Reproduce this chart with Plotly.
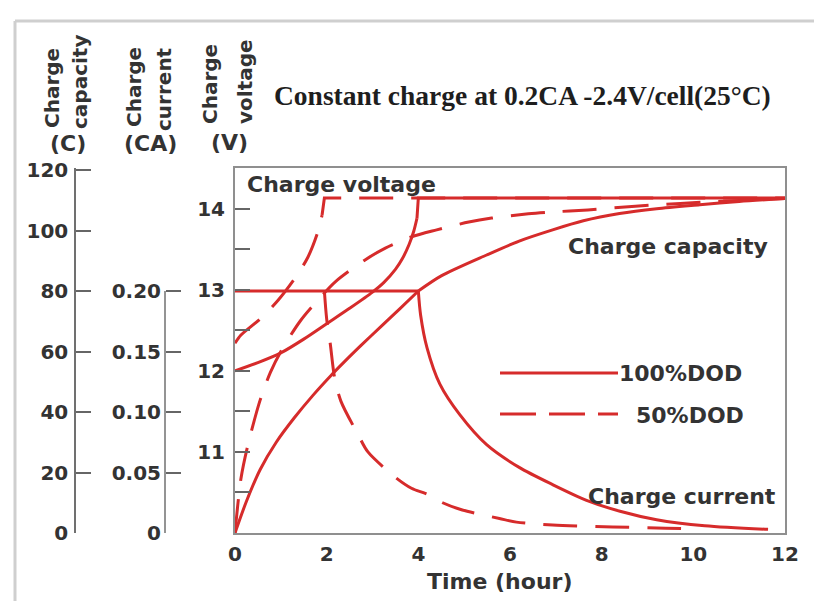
import plotly.graph_objects as go

# ---------------- data ----------------
# Charge voltage, 100% DOD (V)
volt100_curve_t = [0, 0.5, 1.0, 1.5, 2.0, 2.5, 3.0, 3.25, 3.5, 3.65, 3.8, 3.9, 3.97]
volt100_curve_v = [12.0, 12.1, 12.22, 12.39, 12.58, 12.77, 12.97, 13.09, 13.25, 13.38, 13.56, 13.72, 13.88]
volt100_float_t = [3.97, 4.0, 12.0]
volt100_float_v = [13.88, 14.13, 14.13]

# Charge voltage, 50% DOD (V)
volt50_curve_t = [0, 0.13, 0.57, 0.94, 1.33, 1.59, 1.8, 1.9]
volt50_curve_v = [12.34, 12.44, 12.65, 12.87, 13.16, 13.4, 13.7, 13.92]
volt50_float_t = [1.9, 1.95, 12.0]
volt50_float_v = [13.92, 14.13, 14.13]

# Charge capacity (% of C)
cap100_a_t = [0, 0.25, 0.55, 0.9, 1.29, 1.7, 2.09, 2.4, 2.75, 3.2, 3.6, 4.0]
cap100_a_c = [0, 10.5, 21, 30, 38, 45.5, 52, 56.8, 62, 68.5, 74.2, 80]
cap100_b_t = [4.0, 4.5, 5.49, 6.2, 6.93, 7.6, 8.39, 9.2, 10.14, 11.0, 12.0]
cap100_b_c = [80, 85, 91.9, 96.5, 100.2, 103.2, 105.6, 107.2, 108.5, 109.6, 110.6]

cap50_t = [0, 0.13, 0.28, 0.55, 0.77, 1.0, 1.42, 1.81, 2.2, 2.83, 3.28, 3.85, 4.4,
           5.1, 5.6, 6.4, 6.9, 7.7, 8.2, 9.2, 10.25, 11.1, 12.0]
cap50_c = [0, 18, 29, 44, 53, 60, 70, 77, 83.2, 90.2, 94.2, 97.9, 100.2,
           102.8, 104.1, 105.5, 106.1, 106.8, 107.4, 108.5, 109.4, 110.0, 110.6]

# Charge current (CA)
cur100_const_t = [0, 4.0]
cur100_const_i = [0.2, 0.2]
cur100_decay_t = [4.0, 4.05, 4.19, 4.47, 4.9, 5.49, 6.21, 6.93, 7.67, 8.4, 9.2, 10.25, 11.63]
cur100_decay_i = [0.2, 0.18, 0.153, 0.123, 0.098, 0.073, 0.054, 0.04, 0.027, 0.018, 0.011, 0.006, 0.003]

cur50_decay_t = [1.95, 2.0, 2.08, 2.17, 2.31, 2.69, 2.9, 3.5, 3.85, 4.2, 4.53, 4.96,
                 5.77, 6.14, 6.93, 8.24, 9.4, 10.0]
cur50_decay_i = [0.2, 0.177, 0.156, 0.129, 0.109, 0.081, 0.067, 0.046, 0.037, 0.032, 0.025, 0.019,
                 0.012, 0.009, 0.0066, 0.005, 0.004, 0.0035]

time_ticks = [0, 2, 4, 6, 8, 10, 12]
volt_ticks = [10.5, 11, 11.5, 12, 12.5, 13, 13.5, 14]
volt_labels = ["", "11", "", "12", "", "13", "", "14"]
cap_ticks = [0, 20, 40, 60, 80, 100, 120]
cur_ticks = [0, 0.05, 0.10, 0.15, 0.20]
cur_labels = ["0", "0.05", "0.10", "0.15", "0.20"]

# ---------------- styling ----------------
W, H = 814, 601
RED = "#d62b2b"
DASH = "34px,18px"
TXT = "#333333"
SANS = "DejaVu Sans"
LW = 3


def px(x):
    """pixel column -> paper fraction"""
    return x / W


def py(y):
    """pixel row -> paper fraction"""
    return 1 - y / H


# plot frame in pixels
X0, X1, Y0, Y1 = 235, 785, 168, 533
V_RANGE = [10, 14.5]
CAP_TOP = 120 * (Y1 - Y0) / 363.0
CUR_TOP = CAP_TOP / 400.0

fig = go.Figure()


def add(t, v, axis, dash=None, spline=True):
    fig.add_trace(go.Scatter(
        x=t, y=v, yaxis=axis, mode="lines", showlegend=False, hoverinfo="skip",
        line=dict(color=RED, width=LW, dash=dash,
                  shape="spline" if spline else "linear", smoothing=0.8),
    ))


# voltage
add(volt100_curve_t, volt100_curve_v, "y")
add(volt100_float_t, volt100_float_v, "y", spline=False)
add(volt50_curve_t, volt50_curve_v, "y", dash=DASH)
add(volt50_float_t, volt50_float_v, "y", dash=DASH, spline=False)
# capacity
add(cap100_a_t, cap100_a_c, "y2")
add(cap100_b_t, cap100_b_c, "y2")
add(cap50_t, cap50_c, "y2", dash=DASH)
# current
add(cur100_const_t, cur100_const_i, "y3", spline=False)
add(cur100_decay_t, cur100_decay_i, "y3")
add(cur50_decay_t, cur50_decay_i, "y3", dash=DASH)

tickfont = dict(family=SANS, size=20, color=TXT, weight="bold")

fig.update_layout(
    width=W, height=H,
    margin=dict(l=0, r=0, t=0, b=0, autoexpand=False),
    paper_bgcolor="white", plot_bgcolor="white",
    xaxis=dict(
        domain=[px(X0), px(X1)], range=[0, 12],
        tickvals=time_ticks, ticks="", tickfont=tickfont,
        showline=True, linecolor="#8f8f8f", linewidth=2, mirror=True,
        showgrid=False, zeroline=False, ticklabelstandoff=2,
    ),
    yaxis=dict(
        domain=[py(Y1), py(Y0)], range=V_RANGE,
        tickvals=volt_ticks, ticktext=volt_labels,
        ticks="inside", ticklen=15, tickwidth=1.5, tickcolor="#666666",
        tickfont=tickfont, showline=True, linecolor="#8f8f8f", linewidth=2,
        mirror=True, showgrid=False, zeroline=False, ticklabelstandoff=4,
    ),
    yaxis2=dict(
        overlaying="y", anchor="free", position=px(75), side="left",
        range=[0, CAP_TOP], tickvals=cap_ticks,
        ticks="inside", ticklen=15, tickwidth=1.5, tickcolor="#666666",
        tickfont=tickfont, showline=True, linecolor="#707070", linewidth=1.5,
        showgrid=False, zeroline=False, ticklabelstandoff=2,
    ),
    yaxis3=dict(
        overlaying="y", anchor="free", position=px(165), side="left",
        range=[0, CUR_TOP], tickvals=cur_ticks, ticktext=cur_labels,
        ticks="inside", ticklen=15, tickwidth=1.5, tickcolor="#666666",
        tickfont=tickfont, showline=False,
        showgrid=False, zeroline=False, ticklabelstandoff=4,
    ),
)

shapes = [
    # current axis spine covers only 0 .. 0.20 CA
    dict(type="line", xref="paper", yref="y3", x0=px(165), x1=px(165),
         y0=0, y1=cur_ticks[-1], line=dict(color="#707070", width=1.5)),
    # sheet border (left and top edges)
    dict(type="line", xref="paper", yref="paper", x0=px(15), x1=px(15),
         y0=0, y1=py(21), line=dict(color="#cfcfcf", width=3)),
    dict(type="line", xref="paper", yref="paper", x0=px(15), x1=1,
         y0=py(21), y1=py(21), line=dict(color="#cfcfcf", width=3)),
    # legend keys
    dict(type="line", xref="paper", yref="paper", x0=px(500), x1=px(618),
         y0=py(373), y1=py(373), line=dict(color=RED, width=LW)),
    dict(type="line", xref="paper", yref="paper", x0=px(500), x1=px(618),
         y0=py(414), y1=py(414), line=dict(color=RED, width=LW, dash="36px,13px")),
]
fig.update_layout(shapes=shapes)

ann = []


def note(text, x, y, size=22, xanchor="center", yanchor="middle", angle=0,
         family=SANS, color=TXT, bold=True):
    ann.append(dict(
        text=text, x=px(x), y=py(y), xref="paper", yref="paper",
        xanchor=xanchor, yanchor=yanchor, textangle=angle, showarrow=False,
        font=dict(family=family, size=size, color=color,
                  weight="bold" if bold else "normal"),
    ))


note("Constant charge at 0.2CA -2.4V/cell(25°C)", 522, 96, size=27.5,
     family="Liberation Serif", color="#1e1e1e")
note("Charge voltage", 245, 185, xanchor="left")
note("Charge capacity", 770, 246, xanchor="right")
note("Charge current", 778, 496, xanchor="right")
note("100%DOD", 617, 373, xanchor="left")
note("50%DOD", 634, 415, xanchor="left")
note("Time (hour)", 499, 581)

# rotated axis titles
note("Charge", 52, 88, size=20, angle=-90)
note("capacity", 80, 82, size=20, angle=-90)
note("Charge", 134, 87, size=20, angle=-90)
note("current", 164, 89, size=20, angle=-90)
note("Charge", 210, 84, size=20, angle=-90)
note("voltage", 245, 82, size=20, angle=-90)
note("(C)", 68, 143, size=22)
note("(CA)", 150, 143, size=22)
note("(V)", 229, 142, size=22)

fig.update_layout(annotations=ann)

fig.write_html("out.html")
